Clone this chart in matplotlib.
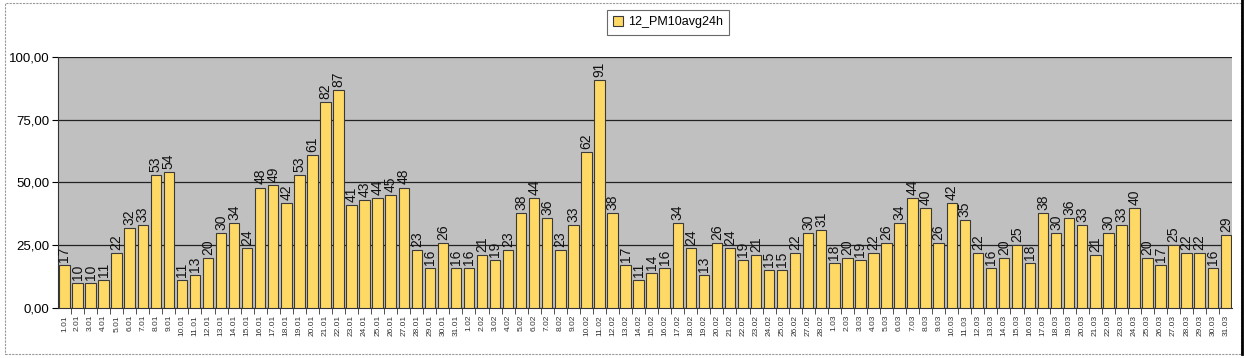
import matplotlib
matplotlib.use("Agg")
import matplotlib.pyplot as plt
from matplotlib.patches import Rectangle
from matplotlib.lines import Line2D
from matplotlib.ticker import FuncFormatter


# Data
jan = [17, 10, 10, 11, 22, 32, 33, 53, 54, 11, 13, 20, 30, 34, 24, 48, 49, 42, 53, 61,
       82, 87, 41, 43, 44, 45, 48, 23, 16, 26, 16]
feb = [16, 21, 19, 23, 38, 44, 36, 23, 33, 62, 91, 38, 17, 11, 14, 16, 34, 24, 13, 26,
       24, 19, 21, 15, 15, 22, 30, 31]
mar = [18, 20, 19, 22, 26, 34, 44, 40, 26, 42, 35, 22, 16, 20, 25, 18, 38, 30, 36, 33,
       21, 30, 33, 40, 20, 17, 25, 22, 22, 16, 29]

labels = ([f"{d}.01" for d in range(1, 32)] +
          [f"{d}.02" for d in range(1, 29)] +
          [f"{d}.03" for d in range(1, 32)])
values = jan + feb + mar
series_name = "12_PM10avg24h"


plt.rcParams['font.family'] = ['Liberation Sans', 'DejaVu Sans']

fig = plt.figure(figsize=(12.46, 3.58), dpi=100)
ax = fig.add_axes([0.0465, 0.1397, 0.9425, 0.7011])

x = list(range(len(values)))
bars = ax.bar(x, values, width=0.8, color='#FFD966', edgecolor='#3a3a3a',
              linewidth=0.8, zorder=3, label=series_name)

# value labels
for xi, v in zip(x, values):
    ax.text(xi, v + 1.2, str(v), rotation=90, ha='center', va='bottom',
            fontsize=10, color='#111111', zorder=4)

ax.set_facecolor('#C0C0C0')
ax.set_xlim(-0.5, len(values) - 0.5)
ax.set_ylim(0, 100)
ax.set_yticks([0, 25, 50, 75, 100])
ax.yaxis.set_major_formatter(FuncFormatter(lambda v, p: f"{v:.2f}".replace('.', ',')))
ax.tick_params(axis='y', labelsize=9.5, length=4, direction='out', pad=2)
ax.grid(axis='y', color='#222222', linewidth=0.9, zorder=1)

ax.set_xticks(x)
ax.set_xticklabels(labels, rotation=90, fontsize=6, color='#333333')
ax.set_xticks([i + 0.5 for i in x[:-1]], minor=True)
ax.tick_params(axis='x', which='major', length=0, pad=5)
ax.tick_params(axis='x', which='minor', length=4, color='#333333')

for side in ['top', 'right']:
    ax.spines[side].set_visible(False)
ax.spines['left'].set_color('#333333')
ax.spines['bottom'].set_color('#333333')

# legend
leg = ax.legend(loc='center', bbox_to_anchor=(0.536, 0.938), bbox_transform=fig.transFigure,
                fontsize=9, frameon=True, fancybox=False, handlelength=0.8,
                handleheight=0.8, handletextpad=0.4, borderpad=0.5)
leg.get_frame().set_edgecolor('#444444')
leg.get_frame().set_linewidth(0.8)

# outer chart border
fig.patches.append(Rectangle((0.004, 0.01), 0.992, 0.982, transform=fig.transFigure,
                             fill=False, edgecolor='#999999', linewidth=0.8,
                             linestyle=(0, (2, 1))))
fig.lines.append(Line2D([0.9968, 0.9968], [0.01, 1.0], transform=fig.transFigure,
                        color='black', linewidth=2))

plt.savefig('out.png', dpi=100)
